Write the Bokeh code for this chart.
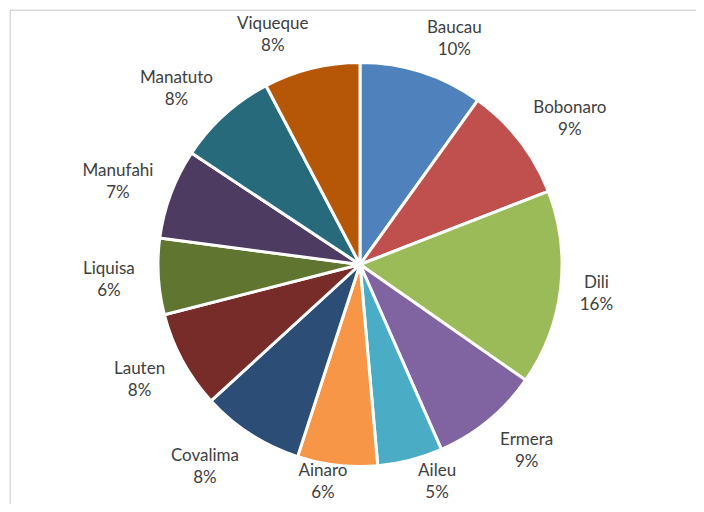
import numpy as np
from bokeh.plotting import figure
from bokeh.models import Range1d, ColumnDataSource
from bokeh.embed import file_html
from bokeh.resources import INLINE
from bokeh.core.properties import value

# ---- data (clockwise from 12 o'clock) ----
districts = ["Baucau", "Bobonaro", "Dili", "Ermera", "Aileu", "Ainaro",
             "Covalima", "Lauten", "Liquisa", "Manufahi", "Manatuto", "Viqueque"]
shares = [9.9, 9.2, 15.6, 8.7, 5.2, 6.4, 8.2, 7.8, 6.1, 7.2, 8.0, 7.7]
colors = ["#4F81BD", "#C0504D", "#9BBB59", "#8064A2", "#4BACC6", "#F79646",
          "#2C4D75", "#772C2A", "#5F7530", "#4D3B62", "#276A7C", "#B65708"]

W, H = 696, 504
CX, CY, R = 359.5, H - 264, 202
GAP_X, GAP_Y, LINE_H, BOX_H, CHAR_W = 18, 12, 22, 46, 9.0
KX, KY = 4.0, 1.1
FRAME = 9.75
BOTTOM_PAD = 13  # keep the lowest label line inside the drawing

vals = np.array(shares, dtype=float)
frac = vals / vals.sum()
cum_end = np.cumsum(frac)
cum_start = cum_end - frac
start = np.pi / 2 - 2 * np.pi * cum_start
end = np.pi / 2 - 2 * np.pi * cum_end
mid = (start + end) / 2
ux, uy = np.cos(mid), np.sin(mid)

pct = [f"{round(f * 100):.0f}%" for f in frac]
widths = np.array([CHAR_W * max(len(n), len(t)) for n, t in zip(districts, pct)])
ax = CX + ux * (R + GAP_X)
ay = CY + uy * (R + GAP_Y)
lx = ax + np.clip(ux * KX, -1, 1) * widths / 2
ly = ay + np.clip(uy * KY, -1, 1) * BOX_H / 2
ly = np.maximum(ly, BOTTOM_PAD + LINE_H / 2)

src = ColumnDataSource(dict(
    name=districts, pct=pct, color=colors, start=start, end=end,
    lx=lx, ny=ly + LINE_H / 2, py=ly - LINE_H / 2,
))

p = figure(width=W, height=H, x_range=Range1d(0, W), y_range=Range1d(0, H),
           output_backend="svg", toolbar_location=None, min_border=0,
           x_axis_location=None, y_axis_location=None, outline_line_color=None,
           background_fill_color="white", border_fill_color="white")
p.grid.visible = False

# chart-area frame (top and left edges visible in the window)
p.line(x=[FRAME, FRAME, W], y=[0, H - FRAME, H - FRAME],
       line_color="#d9d9d9", line_width=1.5)

p.wedge(x=CX, y=CY, radius=R, start_angle="start", end_angle="end",
        direction="clock", fill_color="color", line_color="white",
        line_width=3, source=src)

for col, ycol in (("name", "ny"), ("pct", "py")):
    p.text(x="lx", y=ycol, text=col, source=src,
           text_align="center", text_baseline="middle",
           text_font=value("Lato"), text_font_size="17px", text_color="#404040")

open("out.html", "w").write(file_html(p, INLINE))
